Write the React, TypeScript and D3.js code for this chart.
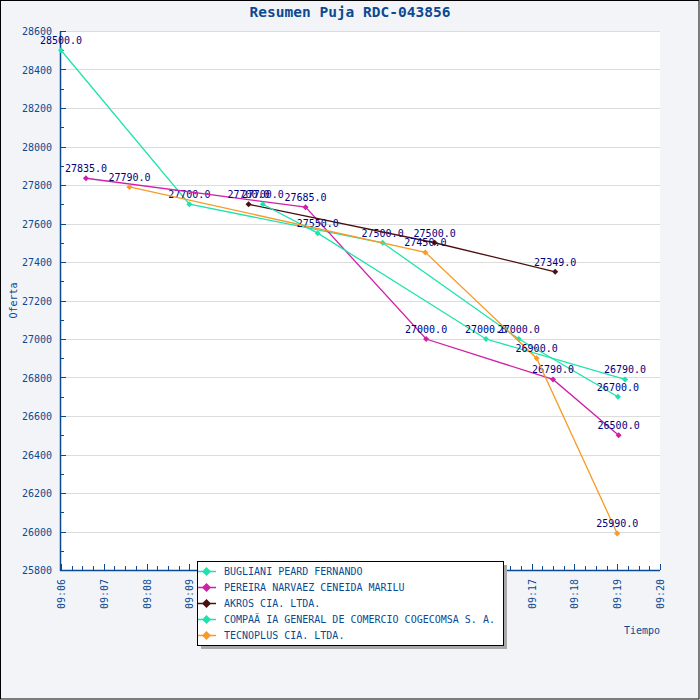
import React, { useEffect, useRef } from "react";
import * as d3 from "d3";

const seriesNames = [
  "BUGLIANI PEARD FERNANDO",
  "PEREIRA NARVAEZ CENEIDA MARILU",
  "AKROS CIA. LTDA.",
  "COMPAÃ IA GENERAL DE COMERCIO COGECOMSA S. A.",
  "TECNOPLUS CIA. LTDA.",
];

const buglianiTimes = ["09:06:00", "09:09:00", "09:13:31", "09:16:42", "09:19:01"];
const buglianiValues = [28500, 27700, 27500, 27000, 26700];

const pereiraTimes = ["09:06:35", "09:11:43", "09:14:32", "09:17:30", "09:19:02"];
const pereiraValues = [27835, 27685, 27000, 26790, 26500];

const akrosTimes = ["09:10:23", "09:14:44", "09:17:33"];
const akrosValues = [27700, 27500, 27349];

const compaTimes = ["09:10:43", "09:12:00", "09:15:56", "09:19:11"];
const compaValues = [27700, 27550, 27000, 26790];

const tecnoTimes = ["09:07:36", "09:14:31", "09:17:07", "09:19:00"];
const tecnoValues = [27790, 27450, 26900, 25990];

const seriesTimes = [buglianiTimes, pereiraTimes, akrosTimes, compaTimes, tecnoTimes];
const seriesValues = [buglianiValues, pereiraValues, akrosValues, compaValues, tecnoValues];

const timeDomain = ["09:06:00", "09:20:00"];
const valueDomain = [25800, 28600];

const colors = ["#1de3ad", "#cf20a6", "#4a1010", "#1de3ad", "#f89a26"];

const FONT = "DejaVu Sans Mono";
const AXIS_BLUE = "#0b4a92";

const App: React.FC = () => {
  const ref = useRef<SVGSVGElement | null>(null);

  useEffect(() => {
    if (!ref.current) return;
    const svg = d3.select(ref.current);
    svg.selectAll("*").remove();

    const width = 700;
    const height = 700;
    const margin = { top: 31, right: 40, bottom: 130, left: 61 };
    const parse = d3.timeParse("%H:%M:%S");

    const x = d3
      .scaleTime()
      .domain(timeDomain.map((t) => parse(t)!))
      .range([margin.left, width - margin.right]);

    const y = d3
      .scaleLinear()
      .domain(valueDomain)
      .range([height - margin.bottom, margin.top]);

    // fondo
    svg
      .append("rect")
      .attr("x", 0.5)
      .attr("y", 0.5)
      .attr("width", width - 1.5)
      .attr("height", height - 1.5)
      .attr("fill", "#f3f4f7")
      .attr("stroke", "#000");

    svg
      .append("rect")
      .attr("x", margin.left)
      .attr("y", margin.top)
      .attr("width", width - margin.right - margin.left)
      .attr("height", height - margin.bottom - margin.top)
      .attr("fill", "#fff");

    // título
    svg
      .append("text")
      .attr("x", width / 2)
      .attr("y", 17)
      .attr("text-anchor", "middle")
      .attr("font-family", FONT)
      .attr("font-weight", "bold")
      .attr("font-size", 14.5)
      .attr("fill", AXIS_BLUE)
      .text("Resumen Puja RDC-043856");

    // grilla
    const yMajor = d3.range(valueDomain[0], valueDomain[1] + 1, 200);
    const yMinor = d3.range(valueDomain[0] + 100, valueDomain[1], 200);
    svg
      .append("g")
      .selectAll("line")
      .data(yMajor)
      .join("line")
      .attr("x1", margin.left)
      .attr("x2", width - margin.right)
      .attr("y1", (d) => Math.round(y(d)) + 0.5)
      .attr("y2", (d) => Math.round(y(d)) + 0.5)
      .attr("stroke", "#dcdcdc");

    // eje Y
    const yAxis = svg.append("g");
    yAxis
      .append("line")
      .attr("x1", margin.left - 0.5)
      .attr("x2", margin.left - 0.5)
      .attr("y1", margin.top)
      .attr("y2", height - margin.bottom + 1)
      .attr("stroke", AXIS_BLUE)
      .attr("stroke-width", 1.5);
    yAxis
      .selectAll("line.major")
      .data(yMajor)
      .join("line")
      .attr("class", "major")
      .attr("x1", margin.left)
      .attr("x2", margin.left + 5)
      .attr("y1", (d) => Math.round(y(d)) + 0.5)
      .attr("y2", (d) => Math.round(y(d)) + 0.5)
      .attr("stroke", AXIS_BLUE);
    yAxis
      .selectAll("line.minor")
      .data(yMinor)
      .join("line")
      .attr("class", "minor")
      .attr("x1", margin.left)
      .attr("x2", margin.left + 3)
      .attr("y1", (d) => Math.round(y(d)) + 0.5)
      .attr("y2", (d) => Math.round(y(d)) + 0.5)
      .attr("stroke", AXIS_BLUE);
    yAxis
      .selectAll("text")
      .data(yMajor)
      .join("text")
      .attr("x", margin.left - 9)
      .attr("y", (d) => y(d) + 4)
      .attr("text-anchor", "end")
      .attr("font-family", FONT)
      .attr("font-size", 10)
      .attr("fill", AXIS_BLUE)
      .text((d) => d);

    svg
      .append("text")
      .attr("transform", `translate(17,${(margin.top + height - margin.bottom) / 2}) rotate(-90)`)
      .attr("text-anchor", "middle")
      .attr("font-family", FONT)
      .attr("font-size", 10)
      .attr("fill", AXIS_BLUE)
      .text("Oferta");

    // eje X
    const xAxis = svg.append("g");
    const [t0, t1] = x.domain();
    const xMajor = d3.timeMinute.range(t0, d3.timeSecond.offset(t1, 1));
    const xMinor = d3.timeSecond.every(15)!.range(t0, t1).filter((d) => d.getSeconds() !== 0);
    const y0 = height - margin.bottom;
    xAxis
      .append("line")
      .attr("x1", margin.left - 1)
      .attr("x2", width - margin.right)
      .attr("y1", y0 + 0.5)
      .attr("y2", y0 + 0.5)
      .attr("stroke", AXIS_BLUE)
      .attr("stroke-width", 1.5);
    xAxis
      .selectAll("line.major")
      .data(xMajor)
      .join("line")
      .attr("class", "major")
      .attr("x1", (d) => Math.round(x(d)) + 0.5)
      .attr("x2", (d) => Math.round(x(d)) + 0.5)
      .attr("y1", y0)
      .attr("y2", y0 - 6)
      .attr("stroke", AXIS_BLUE);
    xAxis
      .selectAll("line.minor")
      .data(xMinor)
      .join("line")
      .attr("class", "minor")
      .attr("x1", (d) => Math.round(x(d)) + 0.5)
      .attr("x2", (d) => Math.round(x(d)) + 0.5)
      .attr("y1", y0)
      .attr("y2", y0 - 4)
      .attr("stroke", AXIS_BLUE);
    xAxis
      .selectAll("text")
      .data(xMajor)
      .join("text")
      .attr("transform", (d) => `translate(${x(d) + 4},${y0 + 9}) rotate(-90)`)
      .attr("text-anchor", "end")
      .attr("font-family", FONT)
      .attr("font-size", 10)
      .attr("fill", AXIS_BLUE)
      .text((d) => d3.timeFormat("%H:%M")(d));

    svg
      .append("text")
      .attr("x", 642)
      .attr("y", 634)
      .attr("text-anchor", "middle")
      .attr("font-family", FONT)
      .attr("font-size", 10)
      .attr("fill", AXIS_BLUE)
      .text("Tiempo");

    // series
    const diamond = (cx: number, cy: number, r: number) =>
      `M${cx},${cy - r}L${cx + r},${cy}L${cx},${cy + r}L${cx - r},${cy}Z`;

    seriesNames.forEach((name, i) => {
      const pts = seriesTimes[i].map((t, j) => ({
        t: parse(t)!,
        v: seriesValues[i][j],
      }));
      const line = d3
        .line<{ t: Date; v: number }>()
        .x((d) => x(d.t))
        .y((d) => y(d.v));
      const g = svg.append("g");
      g.append("path")
        .attr("d", line(pts)!)
        .attr("fill", "none")
        .attr("stroke", colors[i])
        .attr("stroke-width", 1.3);
      g.selectAll("path.m")
        .data(pts)
        .join("path")
        .attr("class", "m")
        .attr("d", (d) => diamond(x(d.t), y(d.v), 3))
        .attr("fill", colors[i]);
      g.selectAll("text")
        .data(pts)
        .join("text")
        .attr("x", (d) => x(d.t))
        .attr("y", (d) => y(d.v) - 6)
        .attr("text-anchor", "middle")
        .attr("font-family", FONT)
        .attr("font-size", 10)
        .attr("fill", "#000080")
        .text((d) => d.v.toFixed(1));
    });

    // leyenda
    const lx = 197;
    const ly = 561;
    const lw = 306;
    const lh = 84;
    const legend = svg.append("g");
    legend
      .append("rect")
      .attr("x", lx + 4)
      .attr("y", ly + 4)
      .attr("width", lw)
      .attr("height", lh)
      .attr("fill", "#a9a9a9");
    legend
      .append("rect")
      .attr("x", lx + 0.5)
      .attr("y", ly + 0.5)
      .attr("width", lw)
      .attr("height", lh)
      .attr("fill", "#fff")
      .attr("stroke", "#000");
    seriesNames.forEach((name, i) => {
      const cy = ly + 10 + i * 16;
      legend
        .append("line")
        .attr("x1", lx + 1)
        .attr("x2", lx + 19)
        .attr("y1", cy + 0.5)
        .attr("y2", cy + 0.5)
        .attr("stroke", colors[i])
        .attr("stroke-width", 1.5);
      legend
        .append("path")
        .attr("d", diamond(lx + 9.5, cy + 0.5, 4.5))
        .attr("fill", colors[i]);
      legend
        .append("text")
        .attr("x", lx + 27)
        .attr("y", cy + 4)
        .attr("font-family", FONT)
        .attr("font-size", 10)
        .attr("fill", AXIS_BLUE)
        .text(name);
    });
  }, []);

  return (
    <div style={{ position: "absolute", left: 0, top: 0 }}>
      <svg ref={ref} width={700} height={700}></svg>
    </div>
  );
};

export default App;
